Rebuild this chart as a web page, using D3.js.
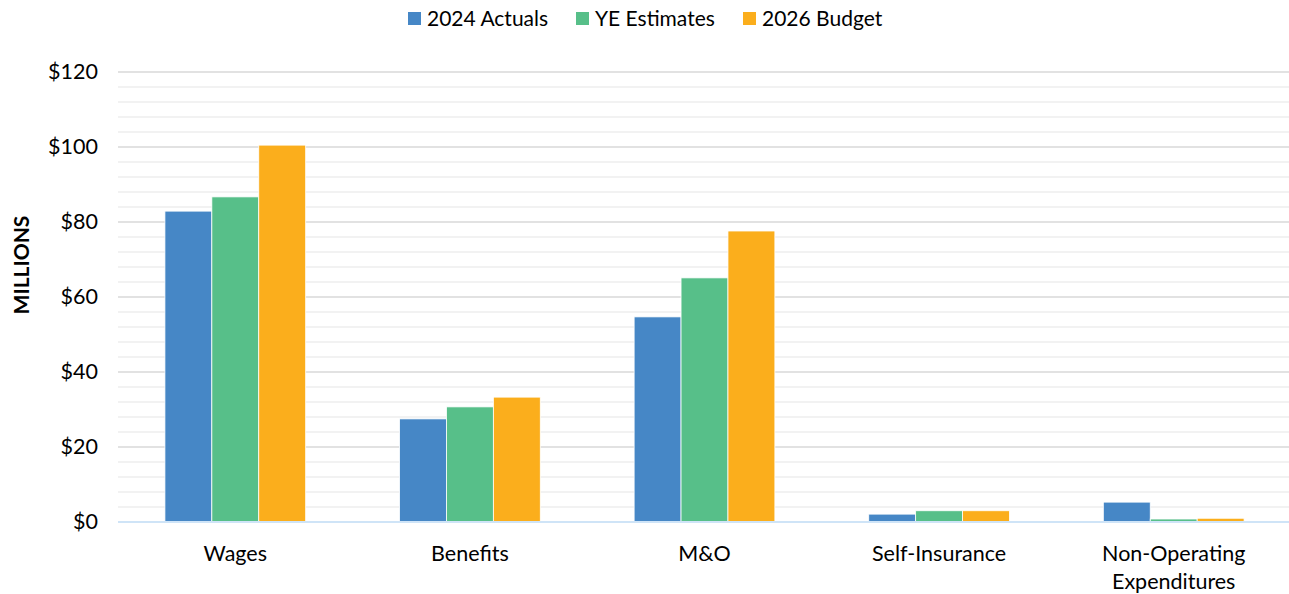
<!DOCTYPE html>
<html>
<head>
<meta charset="utf-8">
<script src="https://cdn.jsdelivr.net/npm/d3@7"></script>
<style>
  body { margin: 0; background: #fff; }
  svg text { font-family: Lato, "Open Sans", sans-serif; fill: #000; }
</style>
</head>
<body>
<div id="chart"></div>
<script>
var categories = ['Wages', 'Benefits', 'M&O', 'Self-Insurance', 'Non-Operating Expenditures'];
var seriesNames = ['2024 Actuals', 'YE Estimates', '2026 Budget'];
var actuals2024 = [82.9, 27.5, 54.7, 2.1, 5.3];
var yeEstimates = [86.7, 30.7, 65.1, 3.0, 0.8];
var budget2026 = [100.5, 33.3, 77.6, 3.0, 1.0];
var majorTicks = [0, 20, 40, 60, 80, 100, 120];
var colors = ['#4687C6', '#57BF89', '#FBAE1C'];

var seriesValues = [actuals2024, yeEstimates, budget2026];

var width = 1289, height = 594;
var plotLeft = 118, plotRight = 1291, plotTop = 72, plotBottom = 522;

var svg = d3.select('#chart')
    .append('svg')
    .attr('width', width)
    .attr('height', height);

var x = d3.scaleBand()
    .domain(categories)
    .range([plotLeft, plotRight]);

var xInner = d3.scaleBand()
    .domain(seriesNames)
    .range([0, x.bandwidth()])
    .paddingOuter(1.0);

var y = d3.scaleLinear()
    .domain([0, 120])
    .range([plotBottom, plotTop]);

// minor gridlines every 4
var minor = d3.range(4, 120, 4).filter(function (d) { return d % 20 !== 0; });
svg.append('g').selectAll('line')
    .data(minor)
    .enter()
    .append('line')
    .attr('x1', plotLeft)
    .attr('x2', plotRight)
    .attr('y1', function (d) { return y(d); })
    .attr('y2', function (d) { return y(d); })
    .attr('stroke', '#eeeeee')
    .attr('stroke-width', 1.3);

svg.append('g').selectAll('line')
    .data(majorTicks.filter(function (d) { return d > 0; }))
    .enter()
    .append('line')
    .attr('x1', plotLeft)
    .attr('x2', plotRight)
    .attr('y1', function (d) { return y(d); })
    .attr('y2', function (d) { return y(d); })
    .attr('stroke', '#d9d9d9')
    .attr('stroke-width', 1.3);

// bars
var rows = categories.map(function (c, i) {
    return { cat: c, vals: seriesNames.map(function (s, j) { return { name: s, value: seriesValues[j][i], idx: j }; }) };
});

var groups = svg.append('g').selectAll('g')
    .data(rows)
    .enter()
    .append('g')
    .attr('transform', function (d) { return 'translate(' + x(d.cat) + ',0)'; });

groups.selectAll('rect')
    .data(function (d) { return d.vals; })
    .enter()
    .append('rect')
    .attr('x', function (d) { return xInner(d.name); })
    .attr('width', xInner.bandwidth())
    .attr('y', function (d) { return y(d.value); })
    .attr('height', function (d) { return y(0) - y(d.value); })
    .attr('fill', function (d) { return colors[d.idx]; })
    .attr('stroke', '#fff')
    .attr('stroke-width', 0.8);

// baseline
svg.append('line')
    .attr('x1', plotLeft)
    .attr('x2', plotRight)
    .attr('y1', y(0))
    .attr('y2', y(0))
    .attr('stroke', '#cfe4f7')
    .attr('stroke-width', 2);

// y tick labels
var yAxis = d3.axisLeft(y)
    .tickValues(majorTicks)
    .tickSize(0)
    .tickPadding(0)
    .tickFormat(function (d) { return '$' + d; });

var yg = svg.append('g')
    .attr('transform', 'translate(98,0)')
    .call(yAxis);
yg.select('.domain').remove();
yg.selectAll('text')
    .style('font-size', '21.5px')
    .style('font-family', 'Lato, sans-serif')
    .attr('fill', '#000');

// x labels
var xAxis = d3.axisBottom(x).tickSize(0).tickPadding(0);
var xg = svg.append('g')
    .attr('transform', 'translate(0,' + plotBottom + ')')
    .call(xAxis);
xg.select('.domain').remove();
xg.selectAll('text').remove();
xg.selectAll('.tick').each(function (d) {
    var words = d === 'Non-Operating Expenditures' ? ['Non-Operating', 'Expenditures'] : [d];
    var t = d3.select(this).append('text')
        .attr('text-anchor', 'middle')
        .style('font-size', '21.5px')
        .attr('fill', '#000');
    words.forEach(function (w, i) {
        t.append('tspan')
            .attr('x', 0)
            .attr('y', 39 + i * 28)
            .text(w);
    });
});

// y axis title
svg.append('text')
    .attr('transform', 'translate(29,265) rotate(-90)')
    .attr('text-anchor', 'middle')
    .style('font-size', '21px')
    .style('font-weight', 'bold')
    .text('MILLIONS');

// legend
var legendX = [408, 576, 743];
var legend = svg.append('g').selectAll('g')
    .data(seriesNames)
    .enter()
    .append('g')
    .attr('transform', function (d, i) { return 'translate(' + legendX[i] + ',12)'; });

legend.append('rect')
    .attr('width', 13)
    .attr('height', 13)
    .attr('fill', function (d, i) { return colors[i]; });

legend.append('text')
    .attr('x', 19)
    .attr('y', 14)
    .style('font-size', '21px')
    .text(function (d) { return d; });
</script>
</body>
</html>
